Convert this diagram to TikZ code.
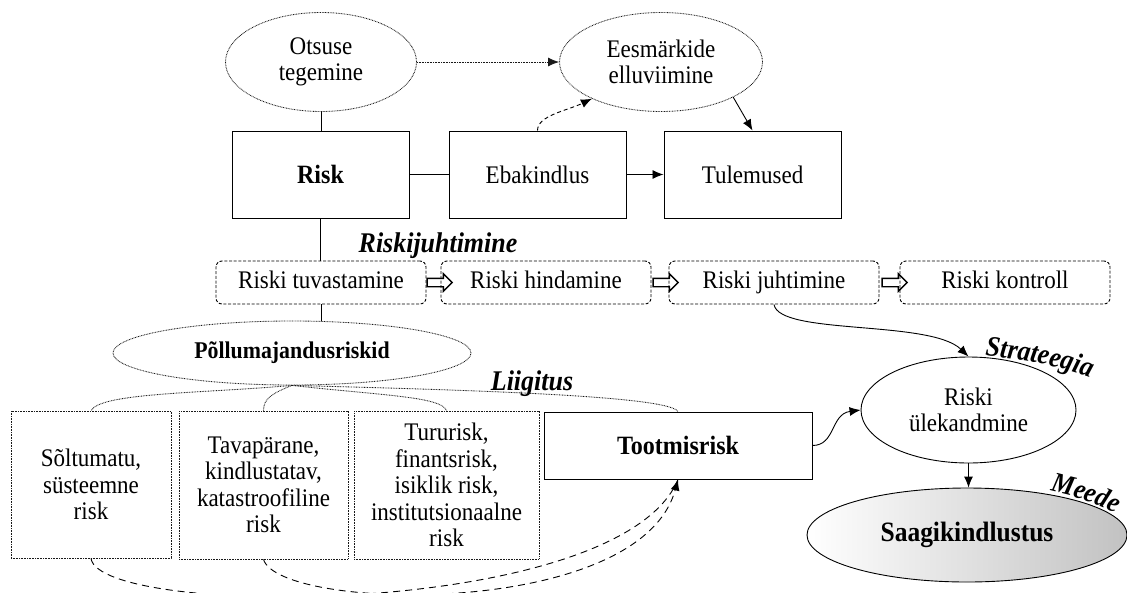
\documentclass[tikz,border=0pt]{standalone}
\usepackage{fontspec}
\setmainfont{Liberation Serif}[FakeStretch=0.91]
\usetikzlibrary{arrows.meta,shapes.geometric,shapes.arrows,decorations.text}
\begin{document}
\begin{tikzpicture}[x=1pt,y=-1pt,
  every node/.style={font=\fontsize{25.3}{26.5}\selectfont, inner sep=0pt},
  bfnode/.style={font=\fontsize{26.4}{28}\selectfont\bfseries},
  lbl/.style={font=\fontsize{28.5}{30}\selectfont\bfseries\itshape, anchor=base},
  sbox/.style={draw, line width=1pt, minimum width=177pt, minimum height=87pt},
  dotell/.style={ellipse, draw=black!90, line width=0.85pt, dash pattern=on 0.8pt off 0.8pt, align=center},
  dotbox/.style={draw=black!90, line width=0.85pt, dash pattern=on 0.8pt off 0.8pt, align=center},
  dbox/.style={draw, line width=0.9pt, dash pattern=on 3pt off 1.7pt, rounded corners=6pt, minimum width=210pt, minimum height=43pt, text height=17pt, text depth=5pt},
  blockarr/.style={single arrow, draw, line width=1.4pt, minimum height=25pt, single arrow head extend=4.5pt, inner sep=3.5pt},
  thinline/.style={line width=0.9pt},
  dotline/.style={draw=black!90, line width=0.85pt, dash pattern=on 0.8pt off 0.8pt},
  dashline/.style={line width=0.9pt, dash pattern=on 4pt off 3pt},
  longdash/.style={line width=0.9pt, dash pattern=on 7pt off 5pt},
  tip/.style={-{Latex[length=11pt,width=9pt]}}
]
\useasboundingbox (0,0) rectangle (1127,592);

% top row
\node[dotell, minimum width=191pt, minimum height=99pt] (ots) at (321,62) {Otsuse\\tegemine};
\node[dotell, minimum width=203pt, minimum height=99pt] (ees) at (661,62) {Eesmärkide\\elluviimine};
\node[sbox, bfnode] (risk) at (320.5,174.5) {Risk};
\node[sbox] (eba) at (537.5,174.5) {Ebakindlus};
\node[sbox] (tul) at (752.5,174.5) {Tulemused};

% process row
\node[lbl] (rj) at (438,252) {Riskijuhtimine};
\node[dbox] (tuv) at (321,282.5) {Riski tuvastamine};
\node[dbox] (hin) at (546,282.5) {Riski hindamine};
\node[dbox] (juh) at (774,282.5) {Riski juhtimine};
\node[dbox] (kon) at (1005,282.5) {Riski kontroll};
\node[blockarr] (a1) at (437.5,282.5) {};
\node[blockarr] (a2) at (663.5,282.5) {};
\node[blockarr] (a3) at (892.5,282.5) {};

% classification
\node[dotell, minimum width=358pt, minimum height=64pt, font=\fontsize{24}{26}\selectfont\bfseries] (poll) at (292,353) {Põllumajandusriskid};
\node[lbl] (lii) at (532,390) {Liigitus};
\node[dotbox, minimum width=160pt, minimum height=147pt] (b1) at (91,484.5) {Sõltumatu,\\süsteemne\\risk};
\node[dotbox, minimum width=169pt, minimum height=148pt] (b2) at (263.5,485) {Tavapärane,\\kindlustatav,\\katastroofiline\\risk};
\node[dotbox, minimum width=185pt, minimum height=148pt] (b3) at (446.5,485) {Tururisk,\\finantsrisk,\\isiklik risk,\\institutsionaalne\\risk};
\node[sbox, bfnode, minimum width=268pt, minimum height=67pt] (toot) at (678,445.5) {Tootmisrisk};

% strategy
\node[ellipse, draw, line width=0.9pt, minimum width=215pt, minimum height=106pt, align=center] (ul) at (968.5,410) {Riski\\ülekandmine};
\node[ellipse, draw, line width=0.9pt, minimum width=320pt, minimum height=94pt, left color=white, right color=black!24, font=\fontsize{28}{30}\selectfont\bfseries] (saag) at (967,535) {Saagikindlustus};

% connectors top
\draw[thinline] (ots.south) -- (ots.south |- risk.north);
\draw[dotline, tip] (ots.east) -- (ees.west);
\draw[thinline] (risk.east) -- (eba.west);
\draw[thinline, tip] (eba.east) -- (tul.west);
\draw[thinline, tip] (ees.-26) -- (tul.north);
\draw[dashline, tip] (eba.north) .. controls +(0,-15) and +(-25,12) .. (ees.-152);
\draw[thinline] (risk.south) -- (risk.south |- tuv.north);
\draw[thinline] (tuv.south) -- (tuv.south |- poll.north);

% braces from Põllumajandusriskid
\draw[dotline] (poll.south) .. controls +(-90,8) and +(10,-18) .. (b1.north);
\draw[dotline] (poll.south) .. controls +(-20,8) and +(0,-12) .. (b2.north);
\draw[dotline] (poll.south) .. controls +(90,10) and +(-5,-14) .. (b3.north);
\draw[dotline] (poll.south) .. controls +(200,5) and +(-10,-15) .. (toot.north);

% bottom dashed curves
\draw[longdash] (b1.south) .. controls +(9,60) and +(-58,140) .. (toot.south);
\draw[longdash, tip] (b2.south) .. controls +(16,52) and +(-38,140) .. (toot.south);

% strategy connectors
\draw[thinline, tip] (juh.south) .. controls +(5,31) and +(-38.5,-37) .. (ul.north);
\draw[thinline, tip] (toot.east) .. controls +(23,0) and +(-30,4) .. (ul.west);
\draw[thinline, tip] (ul.south) -- (ul.south |- saag.north);

% curved labels
\path[decorate, decoration={text along path, text align=left,
  text={|\fontsize{28.5}{30}\selectfont\bfseries\itshape|Strateegia}}]
  (985,356) .. controls (1030,360) and (1075,368) .. (1115,388);
\path[decorate, decoration={text along path, text align=left,
  text={|\fontsize{28}{30}\selectfont\bfseries\itshape|Meede}}]
  (1050,491) .. controls (1075,496) and (1100,505) .. (1133,523);
\end{tikzpicture}
\end{document}
